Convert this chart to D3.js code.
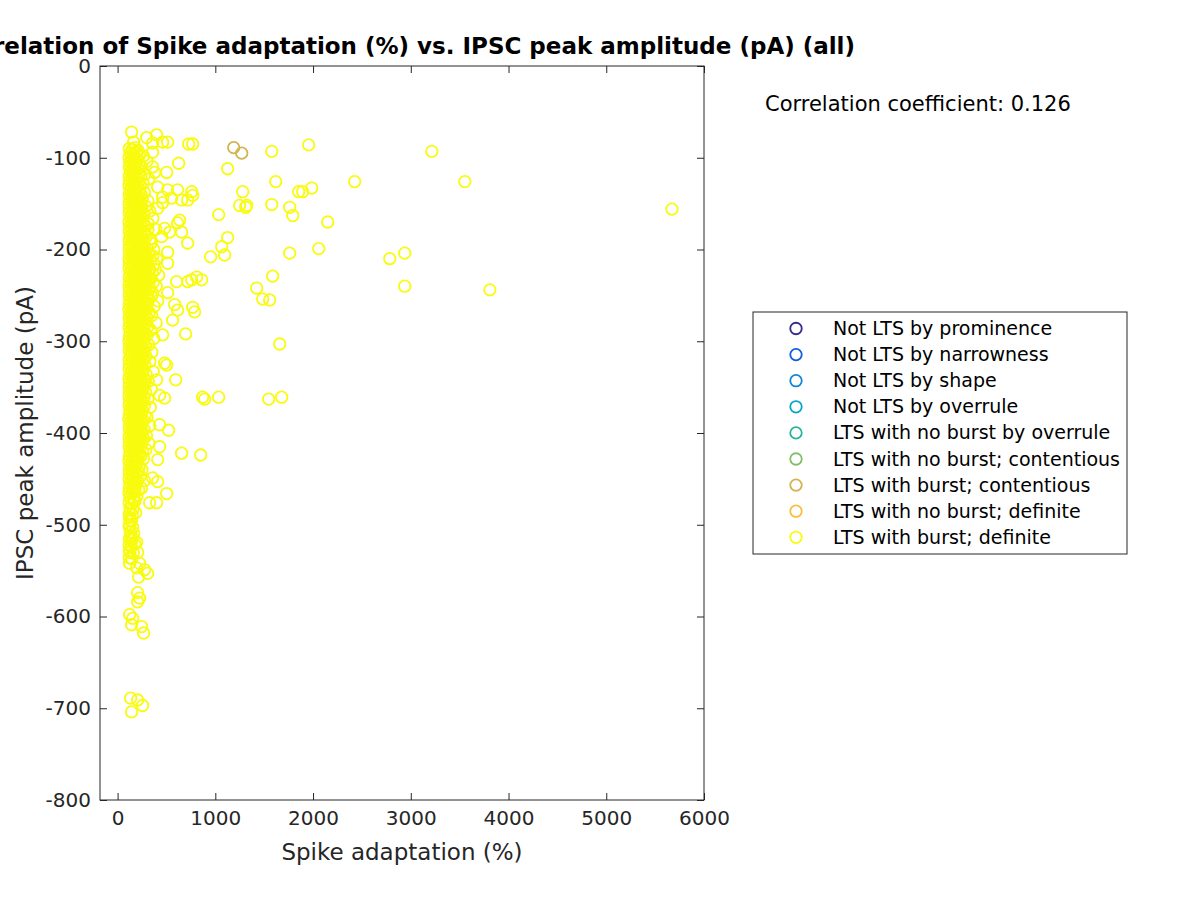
<!DOCTYPE html>
<html><head><meta charset="utf-8">
<script src="https://cdn.jsdelivr.net/npm/d3@7"></script>
<style>body{margin:0;background:#fff}svg{display:block}</style>
</head><body>
<svg id="chart" width="1200" height="900"></svg>
<script>
// ---------- data ----------
const titleText = "Correlation of Spike adaptation (%) vs. IPSC peak amplitude (pA) (all)";
const xLabelText = "Spike adaptation (%)";
const yLabelText = "IPSC peak amplitude (pA)";
const correlationText = "Correlation coefficient: 0.126";

const categories = [
  "Not LTS by prominence",
  "Not LTS by narrowness",
  "Not LTS by shape",
  "Not LTS by overrule",
  "LTS with no burst by overrule",
  "LTS with no burst; contentious",
  "LTS with burst; contentious",
  "LTS with no burst; definite",
  "LTS with burst; definite"
];
const categoryColors = ["#352a87","#0f5cdd","#1485d4","#06a7c6","#2bb39e","#80be6a","#d0b451","#fcbc3d","#f9fb0e"];

const xTicks = [0,1000,2000,3000,4000,5000,6000];
const yTicks = [-800,-700,-600,-500,-400,-300,-200,-100,0];

// [spike adaptation (%), IPSC peak amplitude (pA)]
const notLtsProminence = [];
const notLtsNarrowness = [];
const notLtsShape = [];
const notLtsOverrule = [];
const noBurstOverrule = [];
const noBurstContentious = [];
const burstContentious = [[1188,-89],[1270,-95]];
const noBurstDefinite = [];

const burstDefiniteDense = [
[120,-90],[150,-91],[180,-89],[210,-92],
[128,-95],[158,-96],[195,-94],[225,-97],
[118,-100],[148,-101],[178,-99],[208,-102],
[126,-105],[156,-106],[186,-104],[222,-107],
[120,-110],[150,-111],[180,-109],[212,-112],[245,-110],
[130,-115],[160,-116],[190,-114],[222,-117],
[118,-120],[146,-121],[176,-119],[206,-122],[240,-120],
[124,-125],[154,-126],[184,-124],[214,-127],
[117,-130],[145,-131],[172,-129],[200,-132],[232,-130],[262,-128],
[128,-135],[158,-136],[188,-134],[218,-137],
[120,-140],[150,-141],[180,-139],[210,-142],[240,-140],
[126,-145],[156,-146],[186,-144],[216,-147],[252,-145],
[118,-150],[148,-151],[178,-149],[208,-152],[238,-150],
[124,-155],[154,-156],[184,-154],[214,-157],[244,-155],[290,-153],
[119,-160],[149,-161],[179,-159],[209,-162],[239,-160],[272,-161],
[128,-165],[158,-166],[188,-164],[218,-167],[248,-165],
[116,-170],[146,-171],[176,-169],[206,-172],[236,-170],[266,-171],
[125,-175],[155,-176],[185,-174],[215,-177],[245,-175],[282,-174],
[120,-180],[150,-181],[180,-179],[210,-182],[240,-180],[270,-181],[310,-179],
[127,-185],[157,-186],[187,-184],[217,-187],[247,-185],[295,-186],
[118,-190],[148,-191],[178,-189],[208,-192],[238,-190],[268,-191],[330,-189],
[124,-195],[154,-196],[184,-194],[214,-197],[244,-195],[276,-196],
[119,-200],[149,-201],[179,-199],[209,-202],[239,-200],[269,-201],[305,-199],
[126,-205],[156,-206],[186,-204],[216,-207],[246,-205],[276,-206],[320,-204],[360,-207],
[118,-210],[148,-211],[178,-209],[208,-212],[238,-210],[268,-211],[298,-209],[340,-212],
[123,-215],[153,-216],[183,-214],[213,-217],[243,-215],[273,-216],[305,-214],[372,-216],
[117,-220],[147,-221],[177,-219],[207,-222],[237,-220],[267,-221],[297,-219],[330,-222],
[128,-225],[158,-226],[188,-224],[218,-227],[248,-225],[278,-226],[315,-224],[355,-226],
[120,-230],[150,-231],[180,-229],[210,-232],[240,-230],[270,-231],[300,-229],[338,-232],
[125,-235],[155,-236],[185,-234],[215,-237],[245,-235],[275,-236],[310,-234],[365,-236],
[118,-240],[148,-241],[178,-239],[208,-242],[238,-240],[268,-241],[298,-239],[330,-242],
[124,-245],[154,-246],[184,-244],[214,-247],[244,-245],[274,-246],[318,-244],
[119,-250],[149,-251],[179,-249],[209,-252],[239,-250],[269,-251],[300,-249],[345,-251],
[127,-255],[157,-256],[187,-254],[217,-257],[247,-255],[280,-256],[320,-254],
[121,-260],[151,-261],[181,-259],[211,-262],[241,-260],[271,-261],[305,-259],
[116,-265],[146,-266],[176,-264],[206,-267],[236,-265],[266,-266],[298,-264],
[126,-270],[156,-271],[186,-269],[216,-272],[246,-270],[278,-271],[325,-269],
[120,-275],[150,-276],[180,-274],[210,-277],[240,-275],[270,-276],[300,-274],
[124,-280],[154,-281],[184,-279],[214,-282],[244,-280],[285,-281],
[118,-285],[148,-286],[178,-284],[208,-287],[238,-285],[268,-286],[310,-284],
[128,-290],[158,-291],[188,-289],[218,-292],[248,-290],[280,-291],
[121,-295],[151,-296],[181,-294],[211,-297],[241,-295],[272,-296],[300,-294],
[117,-300],[147,-301],[177,-299],[207,-302],[237,-300],[265,-301],
[125,-305],[155,-306],[185,-304],[215,-307],[245,-305],[285,-306],
[120,-310],[150,-311],[180,-309],[210,-312],[240,-310],[270,-311],
[127,-315],[157,-316],[187,-314],[217,-317],[250,-315],[290,-316],
[118,-320],[148,-321],[178,-319],[208,-322],[238,-320],[268,-321],
[124,-325],[154,-326],[184,-324],[214,-327],[244,-325],[280,-326],
[119,-330],[149,-331],[179,-329],[209,-332],[239,-330],[265,-331],
[128,-335],[158,-336],[188,-334],[218,-337],[250,-335],[292,-336],
[117,-340],[147,-341],[177,-339],[207,-342],[237,-340],[268,-341],
[123,-345],[153,-346],[183,-344],[213,-347],[243,-345],[275,-346],
[120,-350],[150,-351],[180,-349],[210,-352],[240,-350],[262,-351],
[126,-355],[156,-356],[186,-354],[216,-357],[248,-355],[288,-356],
[118,-360],[148,-361],[178,-359],[208,-362],[238,-360],[270,-361],
[124,-365],[154,-366],[184,-364],[214,-367],[244,-365],
[119,-370],[149,-371],[179,-369],[209,-372],[239,-370],[272,-371],
[127,-375],[157,-376],[187,-374],[217,-377],[252,-375],
[121,-380],[151,-381],[181,-379],[211,-382],[241,-380],[280,-381],
[116,-385],[146,-386],[176,-384],[206,-387],[236,-385],[262,-386],
[125,-390],[155,-391],[185,-389],[215,-392],[248,-390],
[120,-395],[150,-396],[180,-394],[210,-397],[240,-395],[272,-396],
[126,-400],[156,-401],[186,-399],[216,-402],[245,-400],
[118,-405],[148,-406],[178,-404],[208,-407],[238,-405],[265,-406],
[124,-410],[154,-411],[184,-409],[214,-412],[250,-410],
[119,-415],[149,-416],[179,-414],[209,-417],[237,-415],
[127,-420],[157,-421],[187,-419],[217,-422],[255,-420],
[121,-425],[151,-426],[181,-424],[211,-427],[240,-425],
[117,-430],[147,-431],[177,-429],[205,-432],
[126,-435],[156,-436],[186,-434],[220,-437],
[120,-440],[150,-441],[180,-439],[210,-442],
[124,-445],[154,-446],[190,-444],[232,-447],
[118,-450],[148,-451],[178,-449],[205,-452],
[127,-455],[157,-456],[187,-454],
[121,-460],[151,-461],[181,-459],[215,-462],
[116,-465],[146,-466],[176,-464],
[125,-470],[160,-471],[198,-469],
[118,-476],[145,-477],[175,-475],
[128,-482],[158,-483],
[120,-488],[150,-489],[185,-487],
[126,-495],[140,-496],
[118,-502],[155,-503],
[130,-508],[165,-509],
[122,-515],[150,-516],
[118,-522],[140,-523],[176,-521],
[126,-530],[160,-531],
[120,-536],[145,-537]
];

const burstDefiniteMid = [
[265,-98],[300,-104],[280,-118],[320,-123],[275,-138],[310,-147],
[330,-158],[360,-166],[315,-172],[390,-178],[345,-193],[370,-200],[400,-210],[385,-222],
[420,-228],[395,-240],[360,-248],[410,-256],[375,-262],[350,-272],[395,-280],[340,-288],
[370,-297],[320,-304],[350,-312],[330,-322],[365,-333],[315,-344],[345,-352],[310,-363],
[335,-372],[300,-383],[330,-392],[295,-403],[320,-411],[290,-418],[265,-428],[250,-440],
[275,-452],[245,-460]
];

const burstDefiniteSpread = [
[143,-72],[164,-83],[297,-78],[399,-75],[358,-84],[461,-83],[512,-83],[727,-85],[768,-85],
[358,-94],[625,-106],[502,-116],[379,-116],[358,-110],[410,-132],[512,-135],[614,-135],[758,-137],
[768,-141],[461,-143],[553,-144],[655,-146],[717,-146],[461,-149],[410,-155],[635,-168],[614,-171],
[655,-181],[717,-193],[481,-177],[532,-181],[451,-186],[512,-203],[512,-215],[604,-235],[717,-235],
[809,-230],[860,-233],[758,-233],[512,-247],[584,-260],[614,-266],[768,-263],[788,-268],[563,-277],
[696,-292],[461,-293],[481,-324],[502,-326],[594,-342],[399,-342],[481,-362],[430,-359],[522,-397],
[430,-391],[430,-415],[655,-422],[850,-424],[410,-429],[358,-449],[410,-453],[502,-466],[328,-476],
[399,-476],[174,-473],[123,-492],[123,-500],[143,-513],[143,-517],[195,-519],[123,-528],[205,-530],
[123,-542],[225,-542],[195,-547],[276,-549],[307,-553],[215,-557],[205,-574],[225,-580],[205,-584],
[123,-598],[154,-602],[143,-609],[246,-611],[266,-618],[133,-689],[205,-691],[256,-697],[143,-704]
];

const burstDefiniteFar = [
[1126,-112],[1577,-93],[1955,-86],[3215,-93],[2426,-126],[3553,-126],[1618,-126],[1853,-137],
[1894,-137],[1986,-133],[1280,-137],[1249,-152],[1321,-152],[1311,-154],[1577,-151],[1761,-154],
[1792,-163],[1034,-162],[2150,-170],[1761,-204],[2058,-199],[2785,-210],[2938,-204],[2938,-240],
[3809,-244],[5672,-156],[1126,-187],[1065,-197],[1095,-206],[952,-208],[1587,-229],[1423,-242],
[1485,-254],[1556,-255],[1659,-303],[870,-361],[891,-363],[1034,-361],[1546,-363],[1679,-361]
];

const seriesData = [
  notLtsProminence, notLtsNarrowness, notLtsShape, notLtsOverrule,
  noBurstOverrule, noBurstContentious, burstContentious, noBurstDefinite,
  burstDefiniteDense.concat(burstDefiniteMid, burstDefiniteSpread, burstDefiniteFar)
];

// ---------- drawing ----------
(function () {
const FONT = "DejaVu Sans";
const AX = "#262626";
const pL = 100, pR = 704, pT = 66, pB = 800;
const svg = d3.select("#chart").style("font-family", FONT);

const x = d3.scaleLinear().domain([-180, 6000]).range([pL, pR]);
const y = d3.scaleLinear().domain([-800, 0]).range([pB, pT]);

// points
const markerR = 5.75, markerW = 1.8;
seriesData.forEach((pts, i) => {
  svg.append("g").selectAll("circle").data(pts).join("circle")
    .attr("cx", d => x(d[0])).attr("cy", d => y(d[1]))
    .attr("r", markerR).attr("fill", "none")
    .attr("stroke", categoryColors[i]).attr("stroke-width", markerW);
});

// axes
const tickLen = 7;
const gx = svg.append("g").attr("transform", `translate(0,${pB})`)
  .call(d3.axisBottom(x).tickValues(xTicks).tickSizeInner(-tickLen).tickSizeOuter(0).tickPadding(11).tickFormat(d3.format("d")));
const gy = svg.append("g").attr("transform", `translate(${pL},0)`)
  .call(d3.axisLeft(y).tickValues(yTicks).tickSizeInner(-tickLen).tickSizeOuter(0).tickPadding(9).tickFormat(d => d === 0 ? "0" : "-" + Math.abs(d)));
const gxt = svg.append("g").attr("transform", `translate(0,${pT})`)
  .call(d3.axisTop(x).tickValues(xTicks).tickSizeInner(-tickLen).tickSizeOuter(0).tickFormat(""));
const gyr = svg.append("g").attr("transform", `translate(${pR},0)`)
  .call(d3.axisRight(y).tickValues(yTicks).tickSizeInner(-tickLen).tickSizeOuter(0).tickFormat(""));
[gx, gy, gxt, gyr].forEach(g => {
  g.select(".domain").remove();
  g.selectAll(".tick line").attr("stroke", AX).attr("stroke-width", 1);
  g.selectAll(".tick text").attr("fill", AX).style("font-family", FONT).style("font-size", "20px");
});
svg.append("rect").attr("x", pL).attr("y", pT).attr("width", pR - pL).attr("height", pB - pT)
  .attr("fill", "none").attr("stroke", AX).attr("stroke-width", 1);

// title and labels
svg.append("text").attr("x", (pL + pR) / 2).attr("y", 54).attr("text-anchor", "middle")
  .style("font-size", "23px").style("font-weight", "bold").attr("fill", "#000").text(titleText);
svg.append("text").attr("x", (pL + pR) / 2).attr("y", 860).attr("text-anchor", "middle")
  .style("font-size", "23px").attr("fill", AX).text(xLabelText);
svg.append("text").attr("transform", `translate(33,${(pT + pB) / 2}) rotate(-90)`).attr("text-anchor", "middle")
  .style("font-size", "23px").attr("fill", AX).text(yLabelText);

// correlation annotation
svg.append("text").attr("x", 765).attr("y", 111).style("font-size", "21px").attr("fill", "#000").text(correlationText);

// legend
const lg = svg.append("g");
lg.append("rect").attr("x", 753).attr("y", 312).attr("width", 374).attr("height", 242)
  .attr("fill", "#fff").attr("stroke", AX).attr("stroke-width", 1);
categories.forEach((c, i) => {
  const cy = 328.5 + i * 26.1;
  lg.append("circle").attr("cx", 796).attr("cy", cy).attr("r", markerR)
    .attr("fill", "none").attr("stroke", categoryColors[i]).attr("stroke-width", markerW);
  lg.append("text").attr("x", 833).attr("y", cy + 6.5).style("font-size", "19px").attr("fill", "#000").text(c);
});
})();
</script>
</body></html>
